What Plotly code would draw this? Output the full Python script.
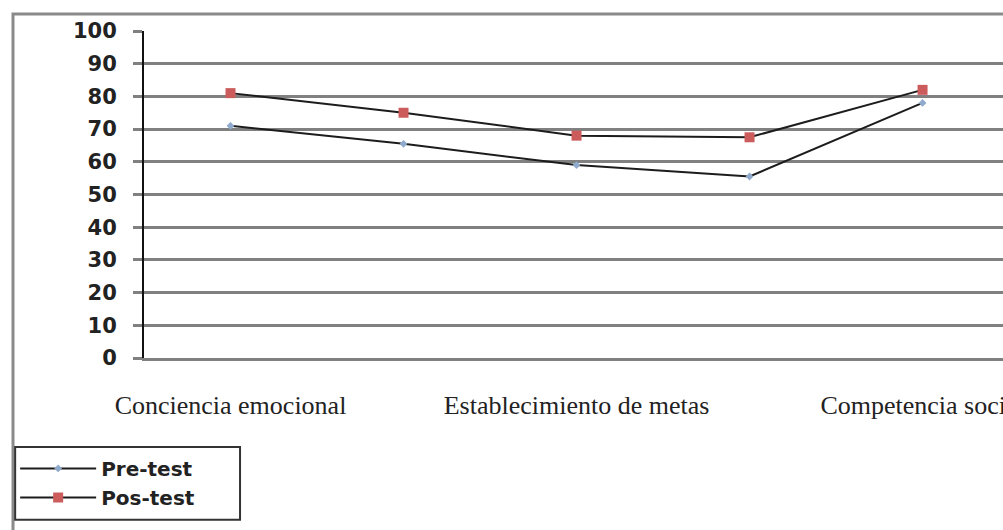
import plotly.graph_objects as go

# Emotional competence dimensions (only every other label is printed on the axis)
categorias = [
    "Conciencia emocional",
    "Regulación emocional",
    "Establecimiento de metas",
    "Empatía",
    "Competencia social",
]
pre_test = [71, 65.5, 59, 55.5, 78]
pos_test = [81, 75, 68, 67.5, 82]
y_ticks = list(range(0, 101, 10))

x_idx = list(range(len(categorias)))

fig = go.Figure()
fig.add_trace(go.Scatter(
    x=x_idx, y=pre_test, name="Pre-test", mode="lines+markers",
    line=dict(color="#1c1c1c", width=2),
    marker=dict(symbol="diamond", size=6, color="#8FAACC"),
))
fig.add_trace(go.Scatter(
    x=x_idx, y=pos_test, name="Pos-test", mode="lines+markers",
    line=dict(color="#1c1c1c", width=2),
    marker=dict(symbol="square", size=10, color="#CC5C5C"),
))

fig.update_layout(
    width=1003, height=530,
    margin=dict(l=144, r=0, t=31, b=172),
    paper_bgcolor="white", plot_bgcolor="white",
    showlegend=True,
    legend=dict(
        x=-0.150, y=-0.278, xanchor="left", yanchor="top",
        borderwidth=0, bgcolor="rgba(0,0,0,0)",
        font=dict(family="DejaVu Sans", size=20, color="#222222", weight="bold"),
        tracegroupgap=0, itemwidth=76,
    ),
    shapes=[
        # outer chart frame
        dict(type="rect", xref="paper", yref="paper",
             x0=-0.1525, x1=1.02, y0=-0.56, y1=1.052,
             line=dict(color="#8a8a8a", width=3), layer="below"),
        # legend frame
        dict(type="rect", xref="paper", yref="paper",
             x0=-0.150, x1=0.1118, y0=-0.495, y1=-0.272,
             line=dict(color="#333333", width=2), layer="below"),
    ],
)

fig.update_yaxes(
    range=[0, 100], tickvals=y_ticks, ticktext=[str(v) for v in y_ticks],
    showgrid=True, gridcolor="#808080", gridwidth=3,
    showline=True, linecolor="#111111", linewidth=2,
    ticks="outside", ticklen=9, tickcolor="#808080", tickwidth=3,
    ticklabelstandoff=12,
    tickfont=dict(family="DejaVu Sans", size=21, color="#222222", weight="bold"),
    zeroline=False, fixedrange=True,
)
fig.update_xaxes(
    range=[-0.5, 4.465],
    tickvals=[0, 2, 4],
    ticktext=[categorias[0], categorias[2], categorias[4]],
    showgrid=False, showline=True, linecolor="#808080", linewidth=3,
    mirror=False, zeroline=False, ticks="",
    ticklabelstandoff=22, ticklabeloverflow="allow",
    tickfont=dict(family="Liberation Serif", size=26, color="#222222"),
    automargin=False, fixedrange=True,
)

fig.write_html("out.html")
